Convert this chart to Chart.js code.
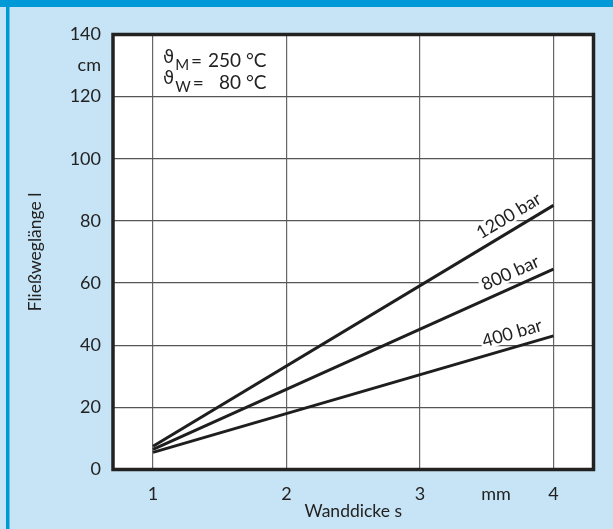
<!DOCTYPE html>
<html>
<head>
<meta charset="utf-8">
<script src="https://cdn.jsdelivr.net/npm/chart.js@4.4.1/dist/chart.umd.min.js"></script>
<style>
  html, body { margin: 0; padding: 0; background: #c6e4f5; }
  #wrap { width: 613px; height: 529px; }
</style>
</head>
<body>
<div id="wrap"><canvas id="flowChart" width="613" height="529"></canvas></div>
<script>
// Fließweglänge over wall thickness, one straight line per injection pressure
const wallThickness = [1, 4];          // mm
const flowLength1200 = [7.5, 85];      // cm
const flowLength800 = [6.5, 64.5];
const flowLength400 = [5.5, 43];
const pressureLabels = ['1200 bar', '800 bar', '400 bar'];
const labelAt = 3.72;                  // x position of the pressure labels

const xTickValues = [1, 2, 3, 3.57, 4];
const xTickLabels = ['1', '2', '3', 'mm', '4'];
const yTickValues = [0, 20, 40, 60, 80, 100, 120, 130, 140];
const yTickLabels = ['0', '20', '40', '60', '80', '100', '120', 'cm', '140'];

const tempSubscripts = ['M', 'W'];
const tempValues = ['250 °C', '80 °C'];
const tempRows = [131.5, 124.5];       // y values of the two text rows

const INK = '#222';
const FONT = 'Lato, "Noto Sans", sans-serif';

const toPoints = ys => wallThickness.map((x, i) => ({ x, y: ys[i] }));
const unitTick = c => !!c.tick && (c.tick.value === 3.57 || c.tick.value === 130);

const backdrop = {
  id: 'backdrop',
  beforeDraw(chart) {
    const { ctx, width, height, chartArea: a } = chart;
    ctx.save();
    ctx.fillStyle = '#c6e4f5';
    ctx.fillRect(0, 0, width, height);
    ctx.fillStyle = '#0099d8';
    ctx.fillRect(0, 0, width, 7);
    ctx.fillRect(6, 0, 3.5, height);
    ctx.fillStyle = '#fff';
    ctx.fillRect(a.left, a.top, a.right - a.left, a.bottom - a.top);
    ctx.restore();
  }
};

function drawLineLabel(ctx, xs, ys, data, text) {
  const x0 = xs.getPixelForValue(wallThickness[0]), y0 = ys.getPixelForValue(data[0]);
  const x1 = xs.getPixelForValue(wallThickness[1]), y1 = ys.getPixelForValue(data[1]);
  const t = (labelAt - wallThickness[0]) / (wallThickness[1] - wallThickness[0]);
  const lift = 14;
  ctx.save();
  ctx.translate(x0 + (x1 - x0) * t, y0 + (y1 - y0) * t);
  ctx.rotate(Math.atan2(y1 - y0, x1 - x0));
  ctx.font = '18px ' + FONT;
  const w = ctx.measureText(text).width;
  ctx.fillStyle = '#fff';
  ctx.fillRect(-w / 2 - 2, -lift - 9, w + 4, 17);
  ctx.fillStyle = INK;
  ctx.textAlign = 'center';
  ctx.textBaseline = 'middle';
  ctx.fillText(text, 0, -lift);
  ctx.restore();
}

const overlay = {
  id: 'overlay',
  afterDatasetsDraw(chart) {
    const { ctx, scales: { x, y } } = chart;
    [flowLength1200, flowLength800, flowLength400].forEach((d, i) =>
      drawLineLabel(ctx, x, y, d, pressureLabels[i]));

    // melt and mould temperature note in the upper left cell
    const left = x.getPixelForValue(1) + 10;
    const right = x.getPixelForValue(2) - 20;
    ctx.save();
    ctx.fillStyle = INK;
    ctx.textBaseline = 'middle';
    tempRows.forEach((row, i) => {
      const py = y.getPixelForValue(row);
      ctx.font = '18px "DejaVu Sans", sans-serif';
      ctx.textAlign = 'left';
      ctx.fillText('ϑ', left, py - 3);
      let cx = left + ctx.measureText('ϑ').width + 1;
      ctx.font = '15px ' + FONT;
      ctx.fillText(tempSubscripts[i], cx, py + 4);
      cx += ctx.measureText(tempSubscripts[i]).width + 2;
      ctx.font = '19px ' + FONT;
      ctx.fillText('=', cx, py + 1);
      ctx.textAlign = 'right';
      ctx.fillText(tempValues[i], right, py);
    });
    ctx.restore();
  },
  afterDraw(chart) {
    const { ctx, chartArea: a } = chart;
    ctx.save();
    ctx.strokeStyle = '#222';
    ctx.lineWidth = 3.5;
    ctx.strokeRect(a.left, a.top, a.right - a.left, a.bottom - a.top);
    ctx.restore();
  }
};

const lineStyle = { borderColor: '#1e1e1e', borderWidth: 3, pointRadius: 0, fill: false, tension: 0 };

new Chart(document.getElementById('flowChart').getContext('2d'), {
  type: 'line',
  data: {
    datasets: [
      { label: pressureLabels[0], data: toPoints(flowLength1200), ...lineStyle },
      { label: pressureLabels[1], data: toPoints(flowLength800), ...lineStyle },
      { label: pressureLabels[2], data: toPoints(flowLength400), ...lineStyle }
    ]
  },
  options: {
    responsive: false,
    animation: false,
    layout: { padding: { left: 0, right: 19.5, top: 34.5, bottom: 0 } },
    plugins: { legend: { display: false }, tooltip: { enabled: false } },
    scales: {
      x: {
        type: 'linear',
        min: 0.7,
        max: 4.3,
        afterFit: s => { s.height = 59.5; },
        afterBuildTicks: s => { s.ticks = xTickValues.map(value => ({ value })); },
        border: { display: false },
        grid: {
          drawTicks: false,
          color: c => unitTick(c) ? 'rgba(0,0,0,0)' : '#666',
          lineWidth: 1.2
        },
        ticks: {
          autoSkip: false,
          maxRotation: 0,
          padding: 14,
          color: INK,
          font: c => ({ family: FONT, size: 18 }),
          callback: v => xTickLabels[xTickValues.indexOf(v)]
        },
        title: {
          display: true,
          text: 'Wanddicke s',
          color: INK,
          font: { family: FONT, size: 17.5 },
          padding: { top: 0, bottom: 7 }
        }
      },
      y: {
        min: 0,
        max: 140,
        afterFit: s => { s.width = 113; },
        afterBuildTicks: s => { s.ticks = yTickValues.map(value => ({ value })); },
        border: { display: false },
        grid: {
          drawTicks: false,
          color: c => unitTick(c) ? 'rgba(0,0,0,0)' : '#555',
          lineWidth: 1.2
        },
        ticks: {
          autoSkip: false,
          padding: 12,
          color: INK,
          font: c => ({ family: FONT, size: 18 }),
          callback: v => yTickLabels[yTickValues.indexOf(v)]
        },
        title: {
          display: true,
          text: 'Fließweglänge l',
          color: INK,
          font: { family: FONT, size: 17.5 },
          padding: { top: 25, bottom: 0 }
        }
      }
    }
  },
  plugins: [backdrop, overlay]
});
</script>
</body>
</html>
